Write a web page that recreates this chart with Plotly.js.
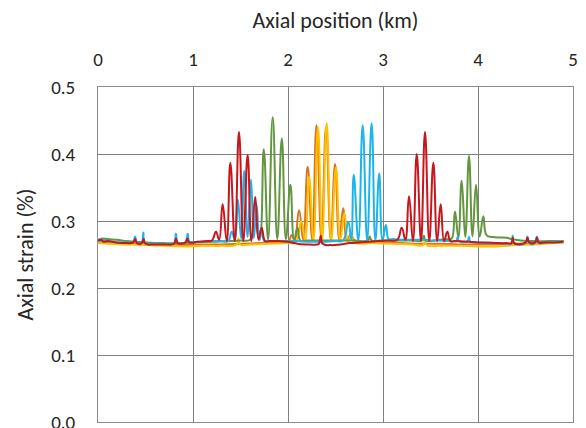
<!DOCTYPE html>
<html>
<head>
<meta charset="utf-8">
<script src="https://cdn.plot.ly/plotly-3.0.1.min.js"></script>
<style>html,body{margin:0;padding:0;background:#fff;}#chart{width:586px;height:428px;}</style>
</head>
<body>
<div id="chart"></div>
<script>
// [axial position (km), axial strain (%)]
const redPts = [[0,0.270],[0.03,0.272],[0.06,0.269],[0.1,0.270],[0.2,0.268],[0.3,0.267],[0.37,0.268],[0.39,0.273],[0.41,0.267],[0.46,0.267],[0.48,0.273],[0.5,0.266],[0.6,0.265],[0.7,0.265],[0.8,0.266],[0.82,0.274],[0.84,0.267],[0.92,0.268],[0.94,0.274],[0.96,0.268],[1.05,0.269],[1.15,0.270],[1.2,0.271],[1.242,0.284],[1.275,0.272],[1.312,0.325],[1.355,0.270],[1.393,0.387],[1.44,0.270],[1.484,0.433],[1.53,0.270],[1.575,0.399],[1.615,0.270],[1.655,0.336],[1.69,0.272],[1.722,0.290],[1.76,0.270],[1.8,0.270],[1.9,0.270],[2.0,0.269],[2.1,0.266],[2.2,0.265],[2.3,0.265],[2.325,0.266],[2.345,0.278],[2.365,0.266],[2.45,0.264],[2.55,0.265],[2.65,0.267],[2.75,0.268],[2.85,0.269],[2.95,0.270],[3.05,0.271],[3.15,0.272],[3.197,0.290],[3.235,0.272],[3.274,0.337],[3.315,0.270],[3.355,0.400],[3.4,0.270],[3.442,0.433],[3.487,0.270],[3.53,0.387],[3.57,0.270],[3.607,0.325],[3.643,0.270],[3.677,0.284],[3.71,0.270],[3.75,0.270],[3.9,0.269],[4.0,0.268],[4.1,0.268],[4.2,0.267],[4.3,0.267],[4.35,0.267],[4.365,0.275],[4.38,0.267],[4.5,0.268],[4.52,0.275],[4.54,0.268],[4.6,0.268],[4.62,0.275],[4.64,0.268],[4.7,0.268],[4.8,0.268],[4.9,0.269]];

const bluePts = [[0,0.272],[0.03,0.270],[0.06,0.272],[0.1,0.270],[0.2,0.268],[0.3,0.268],[0.37,0.268],[0.39,0.277],[0.41,0.268],[0.46,0.268],[0.477,0.283],[0.495,0.267],[0.6,0.266],[0.7,0.266],[0.8,0.267],[0.82,0.281],[0.84,0.268],[0.92,0.268],[0.944,0.281],[0.965,0.269],[1.05,0.269],[1.2,0.270],[1.3,0.270],[1.37,0.270],[1.407,0.284],[1.44,0.272],[1.472,0.332],[1.507,0.274],[1.54,0.375],[1.575,0.276],[1.61,0.362],[1.64,0.274],[1.67,0.324],[1.697,0.272],[1.722,0.290],[1.75,0.270],[1.8,0.270],[1.9,0.270],[2.0,0.270],[2.1,0.270],[2.2,0.269],[2.3,0.269],[2.4,0.269],[2.5,0.270],[2.58,0.271],[2.635,0.299],[2.665,0.272],[2.692,0.369],[2.74,0.271],[2.786,0.443],[2.833,0.271],[2.88,0.446],[2.92,0.271],[2.96,0.371],[2.995,0.271],[3.03,0.294],[3.06,0.273],[3.1,0.273],[3.2,0.272],[3.3,0.272],[3.43,0.272],[3.5,0.271],[3.6,0.271],[3.7,0.270],[3.77,0.270],[3.785,0.276],[3.80,0.270],[3.89,0.270],[3.905,0.276],[3.92,0.269],[4.0,0.268],[4.1,0.267],[4.2,0.267],[4.3,0.266],[4.35,0.266],[4.365,0.278],[4.38,0.267],[4.5,0.267],[4.52,0.277],[4.54,0.267],[4.6,0.267],[4.62,0.277],[4.64,0.267],[4.7,0.268],[4.8,0.269],[4.9,0.270]];

const greenPts = [[0,0.272],[0.05,0.274],[0.1,0.273],[0.2,0.272],[0.3,0.270],[0.4,0.269],[0.5,0.268],[0.7,0.267],[0.9,0.267],[1.0,0.268],[1.2,0.269],[1.4,0.270],[1.5,0.271],[1.6,0.272],[1.655,0.295],[1.70,0.272],[1.745,0.407],[1.79,0.272],[1.839,0.455],[1.887,0.273],[1.935,0.423],[1.978,0.273],[2.025,0.354],[2.065,0.272],[2.10,0.290],[2.13,0.271],[2.2,0.271],[2.3,0.271],[2.4,0.271],[2.5,0.271],[2.6,0.271],[2.7,0.271],[2.84,0.271],[2.86,0.277],[2.88,0.271],[3.0,0.271],[3.1,0.271],[3.2,0.271],[3.3,0.271],[3.41,0.271],[3.43,0.278],[3.45,0.271],[3.6,0.272],[3.7,0.273],[3.725,0.274],[3.758,0.314],[3.793,0.275],[3.828,0.360],[3.866,0.276],[3.905,0.397],[3.942,0.277],[3.979,0.354],[4.018,0.277],[4.056,0.307],[4.09,0.279],[4.15,0.276],[4.3,0.275],[4.35,0.273],[4.45,0.271],[4.6,0.270],[4.75,0.270],[4.9,0.270]];

const orangePts = [[0,0.268],[0.1,0.267],[0.3,0.266],[0.5,0.265],[0.7,0.264],[0.9,0.264],[1.1,0.265],[1.3,0.265],[1.5,0.266],[1.7,0.267],[1.9,0.268],[2.0,0.269],[2.04,0.279],[2.07,0.270],[2.116,0.316],[2.16,0.272],[2.207,0.381],[2.255,0.272],[2.30,0.443],[2.352,0.272],[2.40,0.440],[2.45,0.272],[2.495,0.385],[2.54,0.272],[2.582,0.319],[2.62,0.272],[2.66,0.280],[2.7,0.271],[2.8,0.269],[3.0,0.268],[3.2,0.267],[3.4,0.266],[3.6,0.266],[3.8,0.265],[4.0,0.265],[4.2,0.265],[4.4,0.266],[4.6,0.267],[4.8,0.268],[4.9,0.268]];

const yellowPts = [[0,0.267],[0.1,0.266],[0.3,0.265],[0.5,0.264],[0.7,0.263],[0.9,0.262],[1.1,0.263],[1.3,0.263],[1.46,0.265],[1.477,0.274],[1.495,0.265],[1.6,0.265],[1.8,0.266],[2.0,0.267],[2.08,0.268],[2.14,0.300],[2.18,0.270],[2.222,0.366],[2.268,0.271],[2.315,0.440],[2.36,0.271],[2.407,0.446],[2.455,0.271],[2.505,0.380],[2.55,0.271],[2.594,0.312],[2.63,0.270],[2.665,0.280],[2.7,0.268],[2.9,0.267],[3.1,0.266],[3.3,0.265],[3.42,0.264],[3.44,0.272],[3.46,0.264],[3.6,0.263],[3.8,0.263],[4.0,0.262],[4.2,0.262],[4.4,0.264],[4.6,0.265],[4.8,0.267],[4.9,0.268]];

const xTicks = [0, 1, 2, 3, 4, 5];
const yTicks = [0, 0.1, 0.2, 0.3, 0.4, 0.5];
const yTickText = ['0.0', '0.1', '0.2', '0.3', '0.4', '0.5'];

const series = [
  {name: 'Orange', pts: orangePts, color: '#D9731E'},
  {name: 'Yellow', pts: yellowPts, color: '#FFC000'},
  {name: 'Green', pts: greenPts, color: '#649640'},
  {name: 'Blue', pts: bluePts, color: '#1DB4EE'},
  {name: 'Red', pts: redPts, color: '#C8161D'}
];

const traces = series.map(s => ({
  type: 'scatter',
  mode: 'lines',
  name: s.name,
  x: s.pts.map(p => p[0]),
  y: s.pts.map(p => p[1]),
  line: {color: s.color, width: 2, shape: 'spline', smoothing: 1.3},
  hoverinfo: 'x+y'
}));

const fontFam = 'Carlito, Lato, "Open Sans", sans-serif';
const txtColor = '#262626';
const nb = '\u00a0';
const layout = {
  width: 586, height: 428,
  margin: {l: 98, r: 13, t: 87, b: 6},
  paper_bgcolor: '#ffffff', plot_bgcolor: '#ffffff',
  showlegend: false,
  font: {family: fontFam, color: txtColor, size: 19},
  xaxis: {
    side: 'top', range: [0, 5], tickvals: xTicks, ticktext: xTicks.map(String),
    showgrid: true, gridcolor: '#7f7f7f', gridwidth: 1,
    showline: true, mirror: true, linecolor: '#8c8c8c', linewidth: 1,
    zeroline: false, ticks: '', ticklabelstandoff: 12, ticklabeloverflow: 'allow',
    tickfont: {size: 19, family: fontFam, color: txtColor},
    title: {text: nb.repeat(4) + 'Axial position (km)', font: {size: 22, family: fontFam, color: txtColor}, standoff: 13},
    automargin: false, fixedrange: true
  },
  yaxis: {
    range: [0, 0.5], tickvals: yTicks, ticktext: yTickText,
    showgrid: true, gridcolor: '#7f7f7f', gridwidth: 1,
    showline: true, mirror: true, linecolor: '#8c8c8c', linewidth: 1,
    zeroline: false, ticks: '', ticklabelstandoff: 18, ticklabeloverflow: 'allow',
    tickfont: {size: 19, family: fontFam, color: txtColor},
    title: {text: nb.repeat(10) + 'Axial strain (%)', font: {size: 22, family: fontFam, color: txtColor}, standoff: 11},
    automargin: false, fixedrange: true
  }
};

Plotly.newPlot('chart', traces, layout, {displayModeBar: false, staticPlot: true});
</script>
</body>
</html>
